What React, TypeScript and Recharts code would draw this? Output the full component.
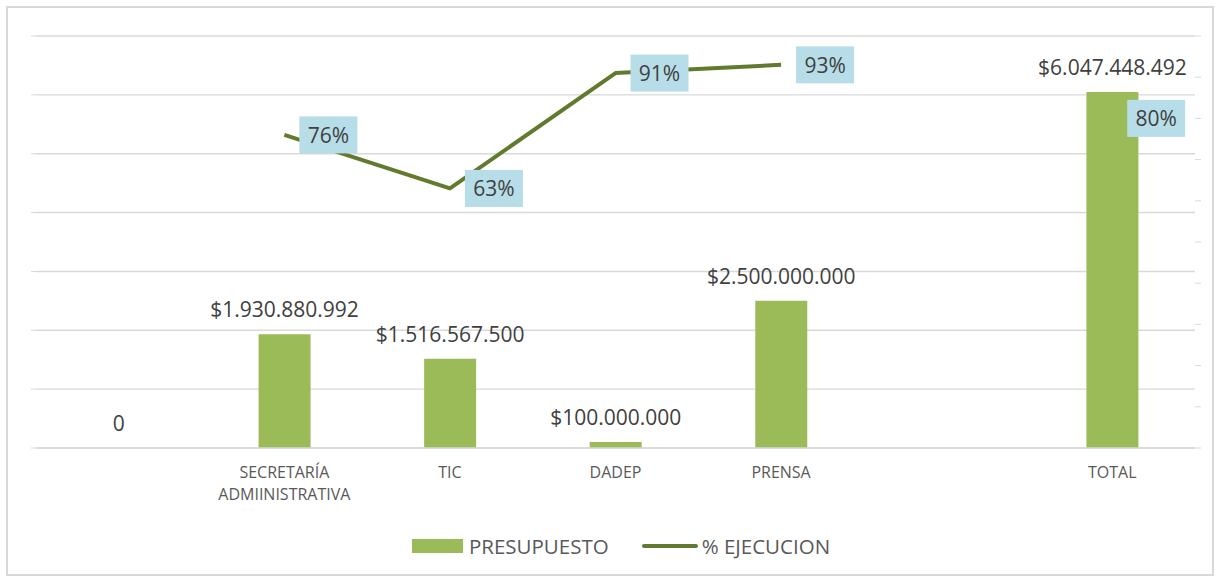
import React from 'react';
import { ComposedChart, Bar, Line, XAxis, YAxis, CartesianGrid, Legend, LabelList } from 'recharts';

const categories = ['', 'SECRETARÍA ADMIINISTRATIVA', 'TIC', 'DADEP', 'PRENSA', '', 'TOTAL'];
const presupuesto = [0, 1930880992, 1516567500, 100000000, 2500000000, null, 6047448492];
const ejecucion = [null, 76, 63, 91, 93, null, 80];
const leftTicks = [0, 1e9, 2e9, 3e9, 4e9, 5e9, 6e9, 7e9];
const rightTicks = [0, 10, 20, 30, 40, 50, 60, 70, 80, 90, 100];

const data = categories.map((name, i) => ({
  name,
  presupuesto: presupuesto[i],
  ejecucion: ejecucion[i],
}));

const BAR_COLOR = '#9BBB59';
const LINE_COLOR = '#617A2E';
const GRID = '#D9D9D9';
const FONT = '"Open Sans", sans-serif';

const money = (v: number) => {
  if (v === 0) return '0';
  return '$' + String(Math.round(v)).replace(/\B(?=(\d{3})+(?!\d))/g, '.');
};

const BarLabel = (props: any) => {
  const { x, y, width, value } = props;
  if (value == null || value === 0) return null;
  return (
    <text x={x + width / 2} y={y - 17} textAnchor="middle" fontSize={21} fill="#404040" fontFamily={FONT}>
      {money(value)}
    </text>
  );
};

// zero-height bars get no label from the bar itself, so the "0" is drawn from a hidden series
const ZeroLabel = (props: any) => {
  const { x, y, value } = props;
  if (value !== 0 || y == null) return null;
  return (
    <text x={x} y={y - 17} textAnchor="middle" fontSize={21} fill="#404040" fontFamily={FONT}>
      {money(value)}
    </text>
  );
};

const PctLabel = (props: any) => {
  const { x, y, value } = props;
  if (value == null || y == null) return null;
  const w = 58;
  const h = 37;
  return (
    <g>
      <rect x={x + 15} y={y - h / 2} width={w} height={h} fill="#B7DEE8" />
      <text x={x + 15 + w / 2} y={y} dominantBaseline="central" textAnchor="middle" fontSize={21} fill="#404040" fontFamily={FONT}>
        {value}%
      </text>
    </g>
  );
};

const CategoryTick = (props: any) => {
  const { x, y, payload } = props;
  const label: string = payload.value || '';
  const lines = label.length > 12 ? label.split(' ') : [label];
  return (
    <text x={x} y={y} textAnchor="middle" fontSize={16} fill="#595959" fontFamily={FONT}>
      {lines.map((l, i) => (
        <tspan key={i} x={x} dy={22}>
          {l}
        </tspan>
      ))}
    </text>
  );
};

const LegendContent = () => (
  <div style={{ display: 'flex', justifyContent: 'center', alignItems: 'center', height: 26, paddingLeft: 24, fontFamily: FONT, fontSize: 20.5, color: '#595959' }}>
    <span style={{ display: 'inline-block', width: 51, height: 14, background: BAR_COLOR, marginRight: 6 }} />
    <span style={{ marginRight: 33 }}>PRESUPUESTO</span>
    <span style={{ display: 'inline-block', width: 56, height: 4, borderRadius: 2, background: LINE_COLOR, marginRight: 4 }} />
    <span>% EJECUCION</span>
  </div>
);

export default function App() {
  return (
    <div style={{ position: 'absolute', left: 0, top: 0, width: 1218, height: 577, background: '#fff', fontFamily: FONT }}>
      <div style={{ position: 'absolute', left: 6, top: 6, width: 1208, height: 570, border: `2px solid ${GRID}`, boxSizing: 'border-box' }} />
      <ComposedChart width={1218} height={577} data={data} margin={{ top: 36, right: 0, left: 0, bottom: 53 }} barSize={52}>
        <CartesianGrid yAxisId="left" vertical={false} stroke={GRID} strokeWidth={1.4} />
        <XAxis dataKey="name" height={50} tickLine={false} axisLine={{ stroke: GRID, strokeWidth: 1.4 }} tick={<CategoryTick />} interval={0} />
        <YAxis yAxisId="left" width={36} domain={[0, 7e9]} ticks={leftTicks} axisLine={false} tickLine={{ stroke: GRID }} tickSize={5} tickFormatter={() => ''} />
        <YAxis yAxisId="right" orientation="right" width={23} domain={[0, 100]} ticks={rightTicks} axisLine={false} tickLine={{ stroke: GRID }} tickSize={6} tickFormatter={() => ''} />
        <Legend verticalAlign="bottom" content={<LegendContent />} wrapperStyle={{ top: 533, left: 0, width: 1218 }} />
        <Bar yAxisId="left" dataKey="presupuesto" name="PRESUPUESTO" fill={BAR_COLOR} isAnimationActive={false}>
          <LabelList dataKey="presupuesto" content={<BarLabel />} />
        </Bar>
        <Line yAxisId="left" type="linear" dataKey="presupuesto" stroke="none" dot={false} activeDot={false} legendType="none" isAnimationActive={false}>
          <LabelList dataKey="presupuesto" content={<ZeroLabel />} />
        </Line>
        <Line yAxisId="right" type="linear" dataKey="ejecucion" name="% EJECUCION" stroke={LINE_COLOR} strokeWidth={4} strokeLinecap="butt" strokeLinejoin="round" dot={false} activeDot={false} isAnimationActive={false}>
          <LabelList dataKey="ejecucion" content={<PctLabel />} />
        </Line>
      </ComposedChart>
    </div>
  );
}
